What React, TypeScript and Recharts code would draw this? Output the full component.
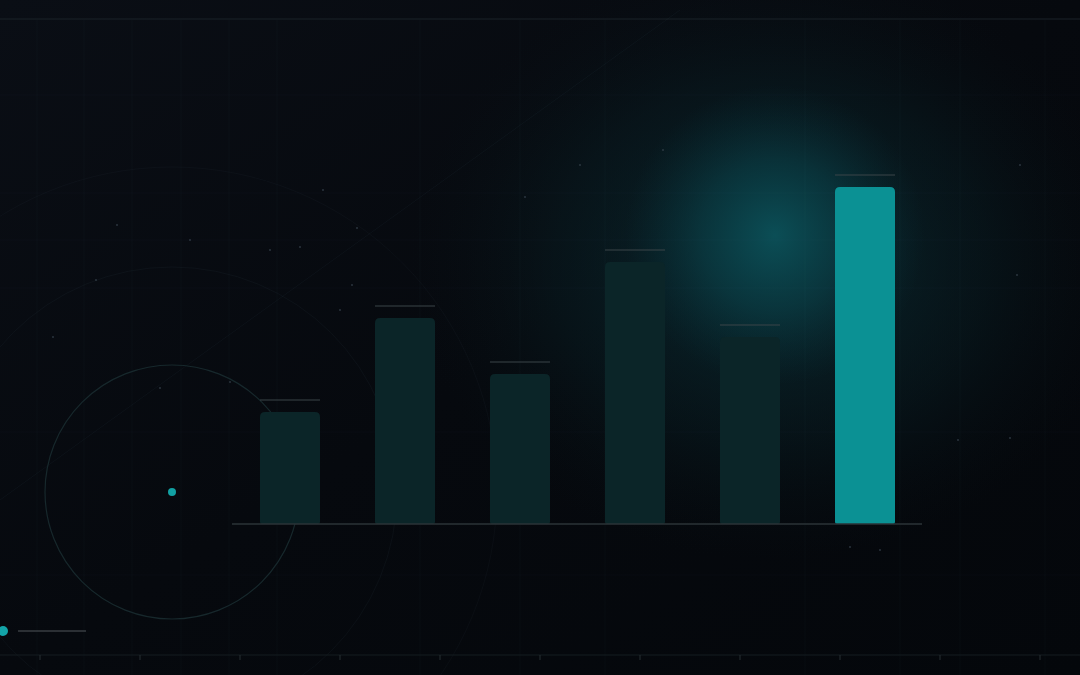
import React from "react";
import { BarChart, Bar, XAxis, YAxis, Cell, ReferenceLine } from "recharts";

const categories = ["A", "B", "C", "D", "E", "F"];
const values = [112, 206, 150, 262, 187, 337];
const highlight = [false, false, false, false, false, true];

const data = categories.map((c, i) => ({ name: c, value: values[i], hi: highlight[i] }));

const W = 1080;
const H = 675;

const BarShape = (props: any) => {
  const { x, y, width, height, fill } = props;
  const r = 5;
  const h = Math.max(height, 0);
  const path = `M${x},${y + r} Q${x},${y} ${x + r},${y} L${x + width - r},${y} Q${x + width},${y} ${x + width},${y + r} L${x + width},${y + h - 2} Q${x + width},${y + h} ${x + width - 2},${y + h} L${x + 2},${y + h} Q${x},${y + h} ${x},${y + h - 2} Z`;
  return (
    <g>
      <line x1={x} x2={x + width} y1={y - 12} y2={y - 12} stroke="#3a4549" strokeWidth={1.2} />
      <path d={path} fill={fill} />
    </g>
  );
};

const stars: [number, number][] = [
  [323, 190], [270, 250], [117, 225], [53, 337], [300, 247], [525, 197], [357, 228],
  [352, 285], [580, 165], [663, 150], [880, 550], [850, 547], [1020, 165], [1010, 438],
  [1017, 275], [958, 440], [190, 240], [160, 388], [96, 280], [230, 382], [340, 310],
];

const Background = () => {
  const vLines = [37, 84, 132, 181, 229, 277, 420, 520, 605, 805, 900, 960, 1045];
  const hLines = [95, 193, 240, 288, 432, 575];
  const ticks = [40, 140, 240, 340, 440, 540, 640, 740, 840, 940, 1040];
  return (
    <svg width={W} height={H} style={{ position: "absolute", left: 0, top: 0 }}>
      <defs>
        <linearGradient id="bgGrad" x1="0" y1="0" x2="1" y2="1">
          <stop offset="0%" stopColor="#0a0e15" />
          <stop offset="50%" stopColor="#06090e" />
          <stop offset="100%" stopColor="#04070b" />
        </linearGradient>
        <radialGradient id="glowWide" cx="0.5" cy="0.5" r="0.5">
          <stop offset="0%" stopColor="#0b3a42" stopOpacity={0.7} />
          <stop offset="60%" stopColor="#0a2a30" stopOpacity={0.3} />
          <stop offset="100%" stopColor="#081418" stopOpacity={0} />
        </radialGradient>
        <radialGradient id="glowCore" cx="0.5" cy="0.5" r="0.5">
          <stop offset="0%" stopColor="#0b5058" stopOpacity={0.95} />
          <stop offset="50%" stopColor="#0a424a" stopOpacity={0.55} />
          <stop offset="100%" stopColor="#093038" stopOpacity={0} />
        </radialGradient>
      </defs>
      <rect x={0} y={0} width={W} height={H} fill="url(#bgGrad)" />
      <ellipse cx={770} cy={260} rx={360} ry={300} fill="url(#glowWide)" />
      <circle cx={775} cy={235} r={150} fill="url(#glowCore)" />
      {vLines.map((x) => (
        <line key={"v" + x} x1={x} x2={x} y1={20} y2={H} stroke="#8aa0b0" strokeOpacity={0.035} strokeWidth={1} />
      ))}
      {hLines.map((y) => (
        <line key={"h" + y} x1={0} x2={W} y1={y} y2={y} stroke="#8aa0b0" strokeOpacity={0.03} strokeWidth={1} />
      ))}
      <line x1={0} x2={W} y1={19} y2={19} stroke="#1b2329" strokeWidth={1.2} />
      <line x1={0} y1={500} x2={680} y2={10} stroke="#6a8a98" strokeOpacity={0.06} strokeWidth={1} />
      <circle cx={172} cy={492} r={127} fill="none" stroke="#17282c" strokeWidth={1.2} />
      <circle cx={172} cy={492} r={225} fill="none" stroke="#6a8a98" strokeWidth={1} strokeOpacity={0.06} />
      <circle cx={172} cy={492} r={325} fill="none" stroke="#6a8a98" strokeWidth={1} strokeOpacity={0.045} />
      <line x1={0} x2={W} y1={655} y2={655} stroke="#151c21" strokeWidth={1} />
      {ticks.map((x) => (
        <line key={"t" + x} x1={x} x2={x} y1={655} y2={660} stroke="#262e33" strokeWidth={1} />
      ))}
      {stars.map(([x, y], i) => (
        <circle key={"s" + i} cx={x} cy={y} r={1} fill="#3a4650" fillOpacity={0.7} />
      ))}
      <circle cx={172} cy={492} r={4} fill="#12a0a3" />
      <circle cx={3} cy={631} r={5} fill="#13a4a8" />
      <line x1={18} x2={86} y1={631} y2={631} stroke="#51575b" strokeWidth={1.2} />
    </svg>
  );
};

export default function App() {
  return (
    <div style={{ position: "fixed", left: 0, top: 0, width: W, height: H, overflow: "hidden", background: "#070a0e" }}>
      <Background />
      <div style={{ position: "absolute", left: 0, top: 0 }}>
        <BarChart
          width={W}
          height={H}
          data={data}
          margin={{ top: 124, right: 158, bottom: 151, left: 232 }}
          barSize={60}
        >
          <XAxis dataKey="name" hide />
          <YAxis hide domain={[0, 400]} />
          <Bar dataKey="value" isAnimationActive={false} shape={<BarShape />}>
            {data.map((d, i) => (
              <Cell key={i} fill={d.hi ? "#0b9194" : "#0b2528"} />
            ))}
          </Bar>
          <ReferenceLine y={0} stroke="#2b3337" strokeWidth={1.5} ifOverflow="extendDomain" />
        </BarChart>
      </div>
    </div>
  );
}
